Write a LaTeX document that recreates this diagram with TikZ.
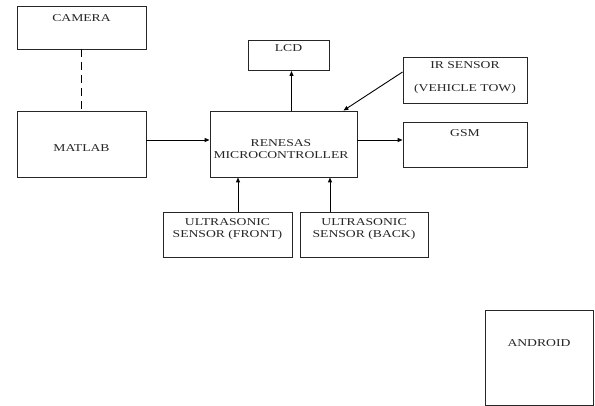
\documentclass[tikz,border=0pt]{standalone}
\usepackage{fontspec}
\setmainfont[FakeStretch=1.3]{Liberation Serif}
\usetikzlibrary{arrows.meta}
\begin{document}
\begin{tikzpicture}[x=1pt,y=-1pt,
  box/.style={draw=black!85,line width=0.9pt,rectangle,inner sep=0pt},
  lbl/.style={font=\fontsize{10.5}{12}\selectfont,text=black!85,align=center,inner sep=0pt},
  arr/.style={line width=0.9pt,-{Triangle[length=5pt,width=4pt]}}]
\useasboundingbox[fill=white] (0,0) rectangle (595,406);
% boxes
\node[box,minimum width=129pt,minimum height=43pt] (cam) at (81.5,27.5) {};
\node[box,minimum width=129pt,minimum height=66pt] (mat) at (81.5,144) {};
\node[box,minimum width=81pt,minimum height=30pt] (lcd) at (288.5,55.5) {};
\node[box,minimum width=147pt,minimum height=66pt] (ren) at (283.5,144) {};
\node[box,minimum width=124pt,minimum height=46pt] (ir) at (465,80) {};
\node[box,minimum width=124pt,minimum height=45pt] (gsm) at (465,144.5) {};
\node[box,minimum width=129pt,minimum height=45pt] (uf) at (227.5,234.5) {};
\node[box,minimum width=128pt,minimum height=45pt] (ub) at (364,234.5) {};
\node[box,minimum width=108pt,minimum height=95pt] (and) at (539,357.5) {};
% labels
\node[lbl] (tcam) at (81.5,18) {CAMERA};
\node[lbl] (tmat) at (81.5,148) {MATLAB};
\node[lbl] (tlcd) at (288.5,48) {LCD};
\node[lbl] (tren) at (281,149) {RENESAS\\MICROCONTROLLER};
\node[lbl] (tir1) at (465,65.5) {IR SENSOR};
\node[lbl] (tir2) at (465,88.5) {(VEHICLE TOW)};
\node[lbl] (tgsm) at (465,133) {GSM};
\node[lbl] (tuf) at (227.5,229) {ULTRASONIC\\SENSOR (FRONT)};
\node[lbl] (tub) at (364,229) {ULTRASONIC\\SENSOR (BACK)};
\node[lbl] (tand) at (539,343) {ANDROID};
% connectors
\draw[line width=0.9pt,dash pattern=on 8pt off 5pt] (cam.south) -- (mat.north);
\draw[arr] ([yshift=4pt]mat.east) -- ([yshift=4pt]ren.west);
\draw[arr] ([xshift=3pt]ren.north -| lcd.south) -- ([xshift=3pt]lcd.south);
\draw[arr] ([yshift=8pt]ir.west) -- ([xshift=-14pt]ren.north east);
\draw[arr] ([yshift=4pt]ren.east) -- ([yshift=4.5pt]gsm.west);
\draw[arr] ([xshift=10.5pt]uf.north) -- ([xshift=10.5pt]uf.north |- ren.south);
\draw[arr] ([xshift=-34pt]ub.north) -- ([xshift=-34pt]ub.north |- ren.south);
\end{tikzpicture}
\end{document}
